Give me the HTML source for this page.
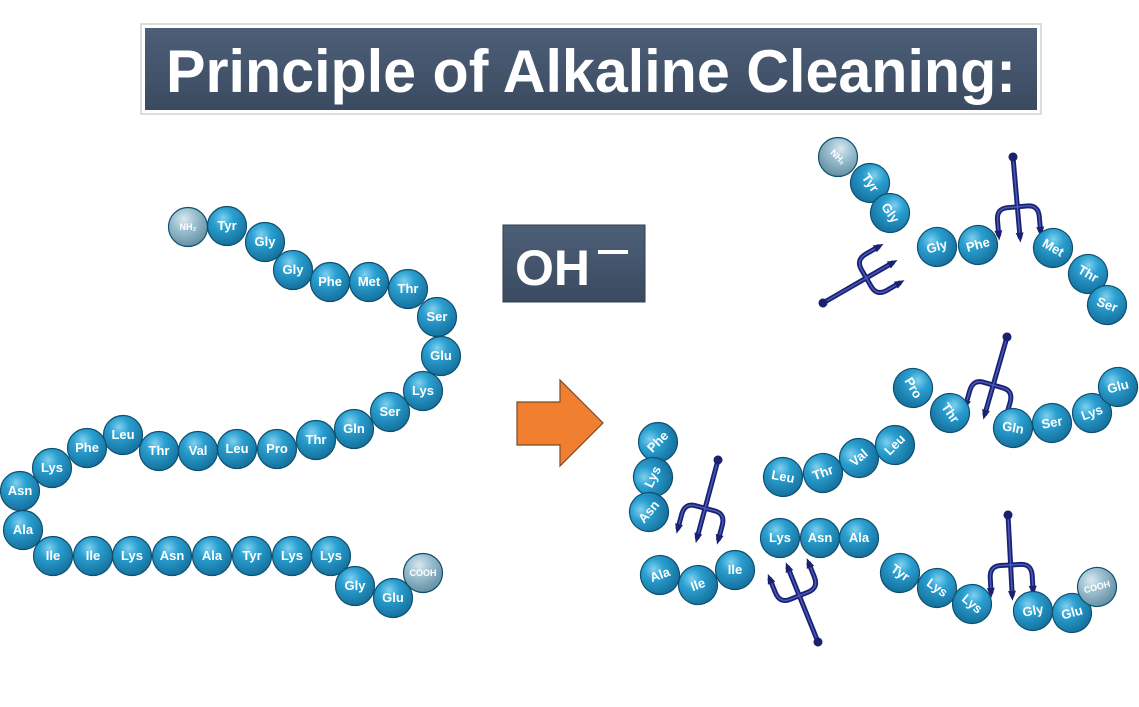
<!DOCTYPE html>
<html><head><meta charset="utf-8"><style>
body{margin:0;background:#fff;}
svg{display:block;}
text{font-family:"Liberation Sans",Arial,sans-serif;font-weight:bold;}
.b circle{fill:url(#b);stroke:#0f4f70;stroke-width:1.2;}
.b circle.g{fill:url(#g);}
.b text{fill:#fff;font-size:13px;text-anchor:middle;}
.b text.s{font-size:9px;}
</style></head><body>
<svg width="1139" height="707" viewBox="0 0 1139 707" xmlns="http://www.w3.org/2000/svg">
<defs>
<radialGradient id="b" cx="0.4" cy="0.3" r="0.75">
<stop offset="0" stop-color="#7fd0ee"/><stop offset="0.35" stop-color="#2a9fd0"/><stop offset="1" stop-color="#136c98"/>
</radialGradient>
<radialGradient id="g" cx="0.4" cy="0.3" r="0.75">
<stop offset="0" stop-color="#d8e8ef"/><stop offset="0.4" stop-color="#9cc0d0"/><stop offset="1" stop-color="#5f8a9e"/>
</radialGradient>
<linearGradient id="t" x1="0" y1="0" x2="0" y2="1">
<stop offset="0" stop-color="#4d5f78"/><stop offset="1" stop-color="#3a4a60"/>
</linearGradient>
<g id="fork" fill="none" stroke-linecap="round">
<g stroke="#1a2270" stroke-width="5">
<line x1="0" y1="0" x2="0" y2="80"/>
<path d="M-21 76 V62 Q-21 50 -10 50 H10 Q21 50 21 62 V76"/>
</g>
<g stroke="#4a58c0" stroke-width="1.5">
<line x1="0" y1="2" x2="0" y2="78"/>
<path d="M-21 74 V62 Q-21 50 -10 50 H10 Q21 50 21 62 V74"/>
</g>
<g fill="#1a2270" stroke="none">
<circle cx="0" cy="0" r="4.5"/>
<path d="M-4 76 L0 86 L4 76Z M-25 72 L-21 82 L-17 72Z M17 72 L21 82 L25 72Z"/>
</g>
</g>
</defs>

<rect x="141" y="24" width="900" height="90" fill="#fff" stroke="#ddd" stroke-width="2"/>
<rect x="145" y="28" width="892" height="82" fill="url(#t)"/>
<text x="591" y="92" text-anchor="middle" fill="#fff" font-size="60" textLength="850" lengthAdjust="spacingAndGlyphs">Principle of Alkaline Cleaning:</text>

<rect x="503" y="225" width="142" height="77" fill="url(#t)" stroke="#2f3c4e" stroke-width="1"/>
<text x="515" y="285" fill="#fff" font-size="50">OH</text>
<rect x="598" y="250" width="30" height="4" fill="#fff"/>

<path d="M517 402 H560 V380 L603 423 L560 466 V445 H517Z" fill="#f08030" stroke="#7a4a2a" stroke-width="1.2"/>

<use href="#fork" transform="translate(1013,157) rotate(-5)"/>
<use href="#fork" transform="translate(1007,337) rotate(16)"/>
<use href="#fork" transform="translate(718,460) rotate(15)"/>
<use href="#fork" transform="translate(1008,515) rotate(-3)"/>
<use href="#fork" transform="translate(818,642) rotate(158)"/>
<use href="#fork" transform="translate(823,303) rotate(-120)"/>

<g class="b">
<g transform="translate(188,227)"><circle class="g" r="19.5"/><text class="s" y="3">NH₂</text></g>
<g transform="translate(227,226)"><circle r="19.5"/><text y="4">Tyr</text></g>
<g transform="translate(265,242)"><circle r="19.5"/><text y="4">Gly</text></g>
<g transform="translate(293,270)"><circle r="19.5"/><text y="4">Gly</text></g>
<g transform="translate(330,282)"><circle r="19.5"/><text y="4">Phe</text></g>
<g transform="translate(369,282)"><circle r="19.5"/><text y="4">Met</text></g>
<g transform="translate(408,289)"><circle r="19.5"/><text y="4">Thr</text></g>
<g transform="translate(437,317)"><circle r="19.5"/><text y="4">Ser</text></g>
<g transform="translate(441,356)"><circle r="19.5"/><text y="4">Glu</text></g>
<g transform="translate(423,391)"><circle r="19.5"/><text y="4">Lys</text></g>
<g transform="translate(390,412)"><circle r="19.5"/><text y="4">Ser</text></g>
<g transform="translate(354,429)"><circle r="19.5"/><text y="4">Gln</text></g>
<g transform="translate(316,440)"><circle r="19.5"/><text y="4">Thr</text></g>
<g transform="translate(277,449)"><circle r="19.5"/><text y="4">Pro</text></g>
<g transform="translate(237,449)"><circle r="19.5"/><text y="4">Leu</text></g>
<g transform="translate(198,451)"><circle r="19.5"/><text y="4">Val</text></g>
<g transform="translate(159,451)"><circle r="19.5"/><text y="4">Thr</text></g>
<g transform="translate(123,435)"><circle r="19.5"/><text y="4">Leu</text></g>
<g transform="translate(87,448)"><circle r="19.5"/><text y="4">Phe</text></g>
<g transform="translate(52,468)"><circle r="19.5"/><text y="4">Lys</text></g>
<g transform="translate(20,491)"><circle r="19.5"/><text y="4">Asn</text></g>
<g transform="translate(23,530)"><circle r="19.5"/><text y="4">Ala</text></g>
<g transform="translate(53,556)"><circle r="19.5"/><text y="4">Ile</text></g>
<g transform="translate(93,556)"><circle r="19.5"/><text y="4">Ile</text></g>
<g transform="translate(132,556)"><circle r="19.5"/><text y="4">Lys</text></g>
<g transform="translate(172,556)"><circle r="19.5"/><text y="4">Asn</text></g>
<g transform="translate(212,556)"><circle r="19.5"/><text y="4">Ala</text></g>
<g transform="translate(252,556)"><circle r="19.5"/><text y="4">Tyr</text></g>
<g transform="translate(292,556)"><circle r="19.5"/><text y="4">Lys</text></g>
<g transform="translate(331,556)"><circle r="19.5"/><text y="4">Lys</text></g>
<g transform="translate(355,586)"><circle r="19.5"/><text y="4">Gly</text></g>
<g transform="translate(393,598)"><circle r="19.5"/><text y="4">Glu</text></g>
<g transform="translate(423,573)"><circle class="g" r="19.5"/><text class="s" y="3">COOH</text></g>

<g transform="translate(838,157) rotate(45)"><circle class="g" r="19.5"/><text class="s" y="3">NH₂</text></g>
<g transform="translate(870,183) rotate(55)"><circle r="19.5"/><text y="4">Tyr</text></g>
<g transform="translate(890,213) rotate(55)"><circle r="19.5"/><text y="4">Gly</text></g>
<g transform="translate(937,247) rotate(-15)"><circle r="19.5"/><text y="4">Gly</text></g>
<g transform="translate(978,245) rotate(-15)"><circle r="19.5"/><text y="4">Phe</text></g>
<g transform="translate(1053,248) rotate(30)"><circle r="19.5"/><text y="4">Met</text></g>
<g transform="translate(1088,274) rotate(30)"><circle r="19.5"/><text y="4">Thr</text></g>
<g transform="translate(1107,305) rotate(20)"><circle r="19.5"/><text y="4">Ser</text></g>

<g transform="translate(913,388) rotate(60)"><circle r="19.5"/><text y="4">Pro</text></g>
<g transform="translate(950,413) rotate(55)"><circle r="19.5"/><text y="4">Thr</text></g>
<g transform="translate(1013,428) rotate(10)"><circle r="19.5"/><text y="4">Gln</text></g>
<g transform="translate(1052,423) rotate(-10)"><circle r="19.5"/><text y="4">Ser</text></g>
<g transform="translate(1092,413) rotate(-20)"><circle r="19.5"/><text y="4">Lys</text></g>
<g transform="translate(1118,387) rotate(-15)"><circle r="19.5"/><text y="4">Glu</text></g>

<g transform="translate(783,477) rotate(10)"><circle r="19.5"/><text y="4">Leu</text></g>
<g transform="translate(823,473) rotate(-20)"><circle r="19.5"/><text y="4">Thr</text></g>
<g transform="translate(859,458) rotate(-40)"><circle r="19.5"/><text y="4">Val</text></g>
<g transform="translate(895,445) rotate(-45)"><circle r="19.5"/><text y="4">Leu</text></g>

<g transform="translate(658,442) rotate(-45)"><circle r="19.5"/><text y="4">Phe</text></g>
<g transform="translate(653,477) rotate(-65)"><circle r="19.5"/><text y="4">Lys</text></g>
<g transform="translate(649,512) rotate(-50)"><circle r="19.5"/><text y="4">Asn</text></g>

<g transform="translate(780,538)"><circle r="19.5"/><text y="4">Lys</text></g>
<g transform="translate(820,538)"><circle r="19.5"/><text y="4">Asn</text></g>
<g transform="translate(859,538)"><circle r="19.5"/><text y="4">Ala</text></g>

<g transform="translate(660,575) rotate(-20)"><circle r="19.5"/><text y="4">Ala</text></g>
<g transform="translate(698,585) rotate(-20)"><circle r="19.5"/><text y="4">Ile</text></g>
<g transform="translate(735,570)"><circle r="19.5"/><text y="4">Ile</text></g>

<g transform="translate(900,573) rotate(35)"><circle r="19.5"/><text y="4">Tyr</text></g>
<g transform="translate(937,588) rotate(35)"><circle r="19.5"/><text y="4">Lys</text></g>
<g transform="translate(972,604) rotate(40)"><circle r="19.5"/><text y="4">Lys</text></g>
<g transform="translate(1033,611) rotate(-10)"><circle r="19.5"/><text y="4">Gly</text></g>
<g transform="translate(1072,613) rotate(-15)"><circle r="19.5"/><text y="4">Glu</text></g>
<g transform="translate(1097,587) rotate(-15)"><circle class="g" r="19.5"/><text class="s" y="3">COOH</text></g>
</g>
</svg>
</body></html>
